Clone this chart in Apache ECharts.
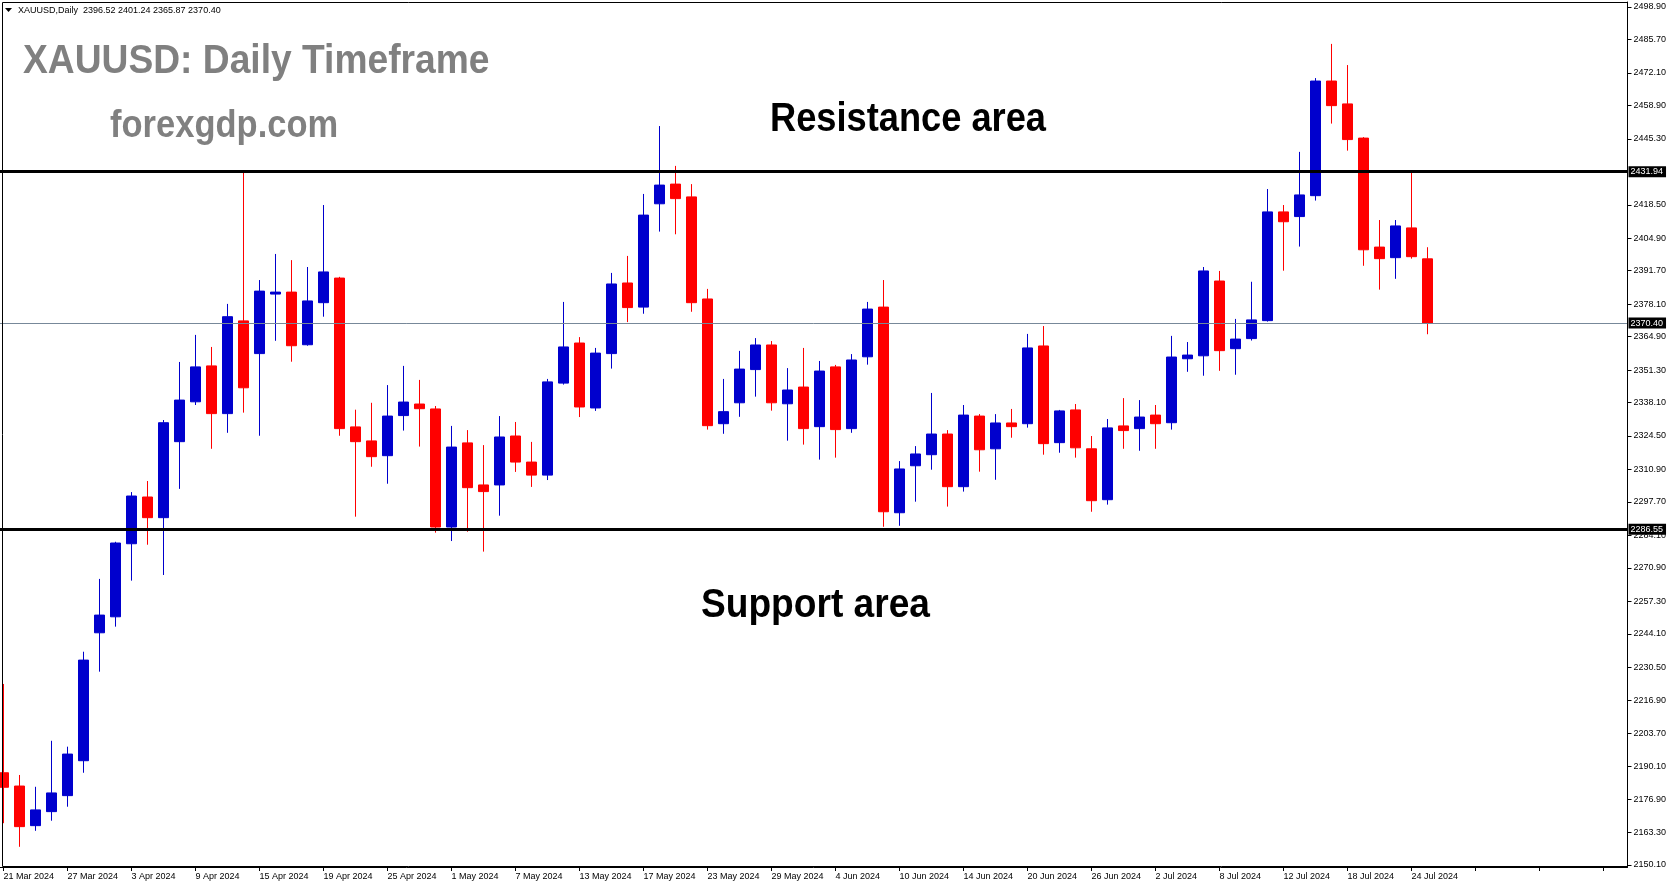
<!DOCTYPE html>
<html>
<head>
<meta charset="utf-8">
<title>XAUUSD Daily</title>
<script src="https://cdn.jsdelivr.net/npm/echarts@6/dist/echarts.min.js"></script>
<style>
  html, body { margin: 0; padding: 0; background: #fff; }
  #chart { width: 1673px; height: 888px; }
</style>
</head>
<body>
<div id="chart"></div>
<script>
// daily bars, 21 Mar 2024 - 25 Jul 2024
var dates = [
  '21 Mar 2024','22 Mar 2024','25 Mar 2024','26 Mar 2024','27 Mar 2024','28 Mar 2024',
  '1 Apr 2024','2 Apr 2024','3 Apr 2024','4 Apr 2024','5 Apr 2024','8 Apr 2024','9 Apr 2024','10 Apr 2024',
  '11 Apr 2024','12 Apr 2024','15 Apr 2024','16 Apr 2024','17 Apr 2024','18 Apr 2024','19 Apr 2024',
  '22 Apr 2024','23 Apr 2024','24 Apr 2024','25 Apr 2024','26 Apr 2024','29 Apr 2024','30 Apr 2024',
  '1 May 2024','2 May 2024','3 May 2024','6 May 2024','7 May 2024','8 May 2024','9 May 2024','10 May 2024',
  '13 May 2024','14 May 2024','15 May 2024','16 May 2024','17 May 2024','20 May 2024','21 May 2024',
  '22 May 2024','23 May 2024','24 May 2024','27 May 2024','28 May 2024','29 May 2024','30 May 2024','31 May 2024',
  '3 Jun 2024','4 Jun 2024','5 Jun 2024','6 Jun 2024','7 Jun 2024','10 Jun 2024','11 Jun 2024','12 Jun 2024',
  '13 Jun 2024','14 Jun 2024','17 Jun 2024','18 Jun 2024','19 Jun 2024','20 Jun 2024','21 Jun 2024',
  '24 Jun 2024','25 Jun 2024','26 Jun 2024','27 Jun 2024','28 Jun 2024',
  '1 Jul 2024','2 Jul 2024','3 Jul 2024','4 Jul 2024','5 Jul 2024','8 Jul 2024','9 Jul 2024','10 Jul 2024',
  '11 Jul 2024','12 Jul 2024','15 Jul 2024','16 Jul 2024','17 Jul 2024','18 Jul 2024','19 Jul 2024',
  '22 Jul 2024','23 Jul 2024','24 Jul 2024','25 Jul 2024'
];

var openPrices = [
  2187.6, 2182.2, 2166.1, 2171.8, 2178.3, 2192.5, 2244.5, 2251.0, 2280.7, 2299.7,
  2291.3, 2322.2, 2338.4, 2353.0, 2333.6, 2371.3, 2358.0, 2382.2, 2383.0, 2361.6,
  2378.7, 2388.7, 2328.2, 2322.5, 2316.5, 2332.8, 2337.5, 2335.5, 2287.5, 2321.7,
  2304.6, 2304.6, 2324.5, 2313.9, 2308.6, 2346.0, 2362.3, 2335.9, 2358.0, 2386.7,
  2376.9, 2418.9, 2426.9, 2421.7, 2380.2, 2329.5, 2338.0, 2351.5, 2361.5, 2337.6,
  2344.4, 2328.3, 2352.6, 2327.5, 2356.7, 2376.9, 2293.3, 2312.4, 2316.9, 2325.3,
  2303.9, 2332.6, 2319.3, 2329.8, 2329.5, 2361.1, 2321.8, 2335.1, 2319.3, 2298.6,
  2328.6, 2327.5, 2333.0, 2329.9, 2355.9, 2357.1, 2387.5, 2360.0, 2364.1, 2371.4,
  2415.6, 2413.7, 2422.2, 2468.8, 2459.5, 2445.6, 2401.3, 2397.0, 2409.1, 2396.52
];
var highPrices = [
  2223.7, 2186.7, 2181.9, 2200.6, 2198.2, 2236.8, 2266.4, 2281.5, 2301.7, 2306.2,
  2331.0, 2354.6, 2365.6, 2360.7, 2378.2, 2431.5, 2387.9, 2398.5, 2396.0, 2393.2,
  2418.4, 2389.2, 2335.2, 2338.0, 2345.2, 2353.0, 2347.3, 2336.7, 2328.6, 2326.9,
  2320.8, 2332.6, 2330.2, 2322.1, 2347.7, 2379.0, 2364.7, 2360.3, 2390.8, 2397.7,
  2422.9, 2450.5, 2434.3, 2426.9, 2384.3, 2347.7, 2359.1, 2364.3, 2363.1, 2352.1,
  2360.3, 2355.0, 2353.4, 2357.8, 2379.0, 2387.9, 2314.3, 2320.4, 2342.0, 2326.9,
  2337.1, 2333.4, 2333.4, 2335.5, 2366.0, 2369.2, 2335.1, 2337.5, 2324.5, 2331.4,
  2339.9, 2339.1, 2337.1, 2365.2, 2362.7, 2393.2, 2391.6, 2372.1, 2387.2, 2424.9,
  2418.4, 2440.0, 2470.0, 2483.9, 2475.3, 2446.0, 2412.3, 2412.3, 2431.8, 2401.24
];
var lowPrices = [
  2167.1, 2157.5, 2164.0, 2168.1, 2173.8, 2187.6, 2228.7, 2247.0, 2265.7, 2280.3,
  2268.0, 2303.0, 2337.1, 2319.3, 2325.8, 2334.0, 2324.6, 2363.2, 2354.7, 2361.2,
  2373.0, 2324.6, 2291.7, 2312.0, 2305.1, 2326.7, 2320.2, 2285.2, 2281.8, 2285.6,
  2277.5, 2292.1, 2309.9, 2303.8, 2306.6, 2345.4, 2332.2, 2334.7, 2351.9, 2370.8,
  2374.2, 2407.6, 2406.5, 2375.0, 2327.1, 2325.4, 2332.3, 2340.5, 2334.8, 2322.6,
  2321.0, 2314.9, 2315.7, 2325.8, 2353.5, 2287.6, 2288.0, 2297.8, 2310.8, 2295.8,
  2301.9, 2310.0, 2306.7, 2323.8, 2327.9, 2316.9, 2317.7, 2315.7, 2293.7, 2296.6,
  2319.3, 2318.5, 2319.3, 2327.1, 2350.6, 2349.0, 2351.0, 2349.4, 2363.3, 2371.0,
  2391.7, 2401.5, 2420.2, 2451.5, 2440.5, 2393.7, 2384.0, 2388.4, 2396.6, 2365.87
];
var closePrices = [
  2181.7, 2165.7, 2172.5, 2179.4, 2195.2, 2233.4, 2251.7, 2281.0, 2300.1, 2291.3,
  2329.9, 2339.1, 2352.6, 2333.6, 2373.0, 2344.1, 2383.4, 2383.0, 2361.2, 2379.4,
  2391.2, 2327.5, 2322.2, 2316.1, 2332.6, 2338.3, 2335.6, 2287.5, 2320.0, 2303.5,
  2301.9, 2324.1, 2313.9, 2308.6, 2346.5, 2360.7, 2336.3, 2358.2, 2386.3, 2376.7,
  2414.3, 2426.5, 2421.0, 2378.7, 2328.7, 2334.4, 2351.7, 2361.5, 2338.0, 2343.2,
  2327.5, 2350.9, 2327.1, 2355.4, 2376.1, 2293.7, 2311.1, 2317.2, 2325.3, 2303.9,
  2333.0, 2318.9, 2329.8, 2328.3, 2360.3, 2321.4, 2334.7, 2319.7, 2298.2, 2327.8,
  2326.7, 2332.2, 2329.5, 2356.6, 2357.4, 2391.6, 2359.2, 2363.9, 2371.7, 2415.6,
  2411.6, 2422.5, 2468.8, 2458.8, 2445.0, 2400.2, 2396.6, 2409.9, 2397.4, 2370.40
];

var priceTicks = [
  2498.90, 2485.70, 2472.10, 2458.90, 2445.30, 2418.50, 2404.90, 2391.70, 2378.10,
  2364.90, 2351.30, 2338.10, 2324.50, 2310.90, 2297.70, 2284.10, 2270.90, 2257.30,
  2244.10, 2230.50, 2216.90, 2203.70, 2190.10, 2176.90, 2163.30, 2150.10
];

var resistanceLevel = 2431.94;
var supportLevel = 2286.55;
var lastPrice = 2370.40;

var blankBars = 12; // empty space right of the last bar

var chart = echarts.init(document.getElementById('chart'));

var categories = dates.slice();
for (var k = 0; k < blankBars; k++) categories.push('');

var candles = [];
for (var i = 0; i < dates.length; i++) {
  candles.push([openPrices[i], closePrices[i], lowPrices[i], highPrices[i]]);
}

var axisFont = '"Liberation Sans", Arial, sans-serif';
var boxLabel = {
  show: true,
  position: 'end',
  distance: 1,
  formatter: function (p) { return Number(p.value).toFixed(2); },
  color: '#fff',
  backgroundColor: '#000',
  fontSize: 9,
  fontFamily: axisFont,
  padding: [1, 3, 1, 2]
};

chart.setOption({
  backgroundColor: '#fff',
  animation: false,
  grid: {
    left: -4.5,
    right: 45.5,
    top: 2,
    bottom: 21,
    outerBoundsMode: 'none'
  },
  xAxis: {
    type: 'category',
    data: categories,
    boundaryGap: true,
    axisLine: { lineStyle: { color: '#000', width: 1 } },
    axisTick: { show: true, alignWithLabel: true, interval: 3, length: 4, lineStyle: { color: '#000' } },
    axisLabel: {
      interval: 3,
      align: 'left',
      margin: 5,
      color: '#000',
      fontSize: 9,
      fontFamily: axisFont
    },
    splitLine: { show: false }
  },
  yAxis: {
    type: 'value',
    position: 'right',
    min: 2149.29,
    max: 2500.93,
    splitLine: { show: false },
    axisLine: { show: true, lineStyle: { color: '#000', width: 1 } },
    axisTick: { show: true, length: 4, customValues: priceTicks, lineStyle: { color: '#000' } },
    axisLabel: {
      customValues: priceTicks,
      formatter: function (v) { return Number(v).toFixed(2); },
      margin: 6,
      color: '#000',
      fontSize: 9,
      fontFamily: axisFont
    }
  },
  series: [{
    type: 'candlestick',
    data: candles,
    barWidth: 10,
    itemStyle: {
      color: '#0000CD',
      color0: '#FF0000',
      borderColor: '#0000CD',
      borderColor0: '#FF0000',
      borderWidth: 1
    },
    emphasis: { disabled: true },
    markLine: {
      silent: true,
      symbol: 'none',
      z: 10,
      data: [
        { yAxis: lastPrice, lineStyle: { color: '#778899', width: 1, type: 'solid' }, label: boxLabel },
        { yAxis: resistanceLevel, lineStyle: { color: '#000', width: 3, type: 'solid' }, label: boxLabel },
        { yAxis: supportLevel, lineStyle: { color: '#000', width: 3, type: 'solid' }, label: boxLabel }
      ]
    }
  }],
  graphic: [
    {
      type: 'rect', silent: true, z: 100,
      shape: { x: 2.5, y: 2.5, width: 1625, height: 864 },
      style: { fill: 'none', stroke: '#000', lineWidth: 1 }
    },
    {
      type: 'polygon', silent: true,
      shape: { points: [[5, 8], [12, 8], [8.5, 12]] },
      style: { fill: '#000' }
    },
    {
      type: 'text', x: 18, y: 11, silent: true,
      style: {
        text: 'XAUUSD,Daily  2396.52 2401.24 2365.87 2370.40',
        fill: '#000', font: '9px ' + axisFont, verticalAlign: 'middle'
      }
    },
    {
      type: 'text', x: 23, y: 62, scaleX: 0.93, silent: true,
      style: {
        text: 'XAUUSD: Daily Timeframe',
        fill: '#808080', font: 'bold 40px ' + axisFont, verticalAlign: 'middle'
      }
    },
    {
      type: 'text', x: 110, y: 126, scaleX: 0.885, silent: true,
      style: {
        text: 'forexgdp.com',
        fill: '#808080', font: 'bold 39px ' + axisFont, verticalAlign: 'middle'
      }
    },
    {
      type: 'text', x: 770, y: 120, scaleX: 0.906, silent: true,
      style: {
        text: 'Resistance area',
        fill: '#000', font: 'bold 40px ' + axisFont, verticalAlign: 'middle'
      }
    },
    {
      type: 'text', x: 701, y: 605.5, scaleX: 0.928, silent: true,
      style: {
        text: 'Support area',
        fill: '#000', font: 'bold 40px ' + axisFont, verticalAlign: 'middle'
      }
    }
  ]
});
</script>
</body>
</html>
